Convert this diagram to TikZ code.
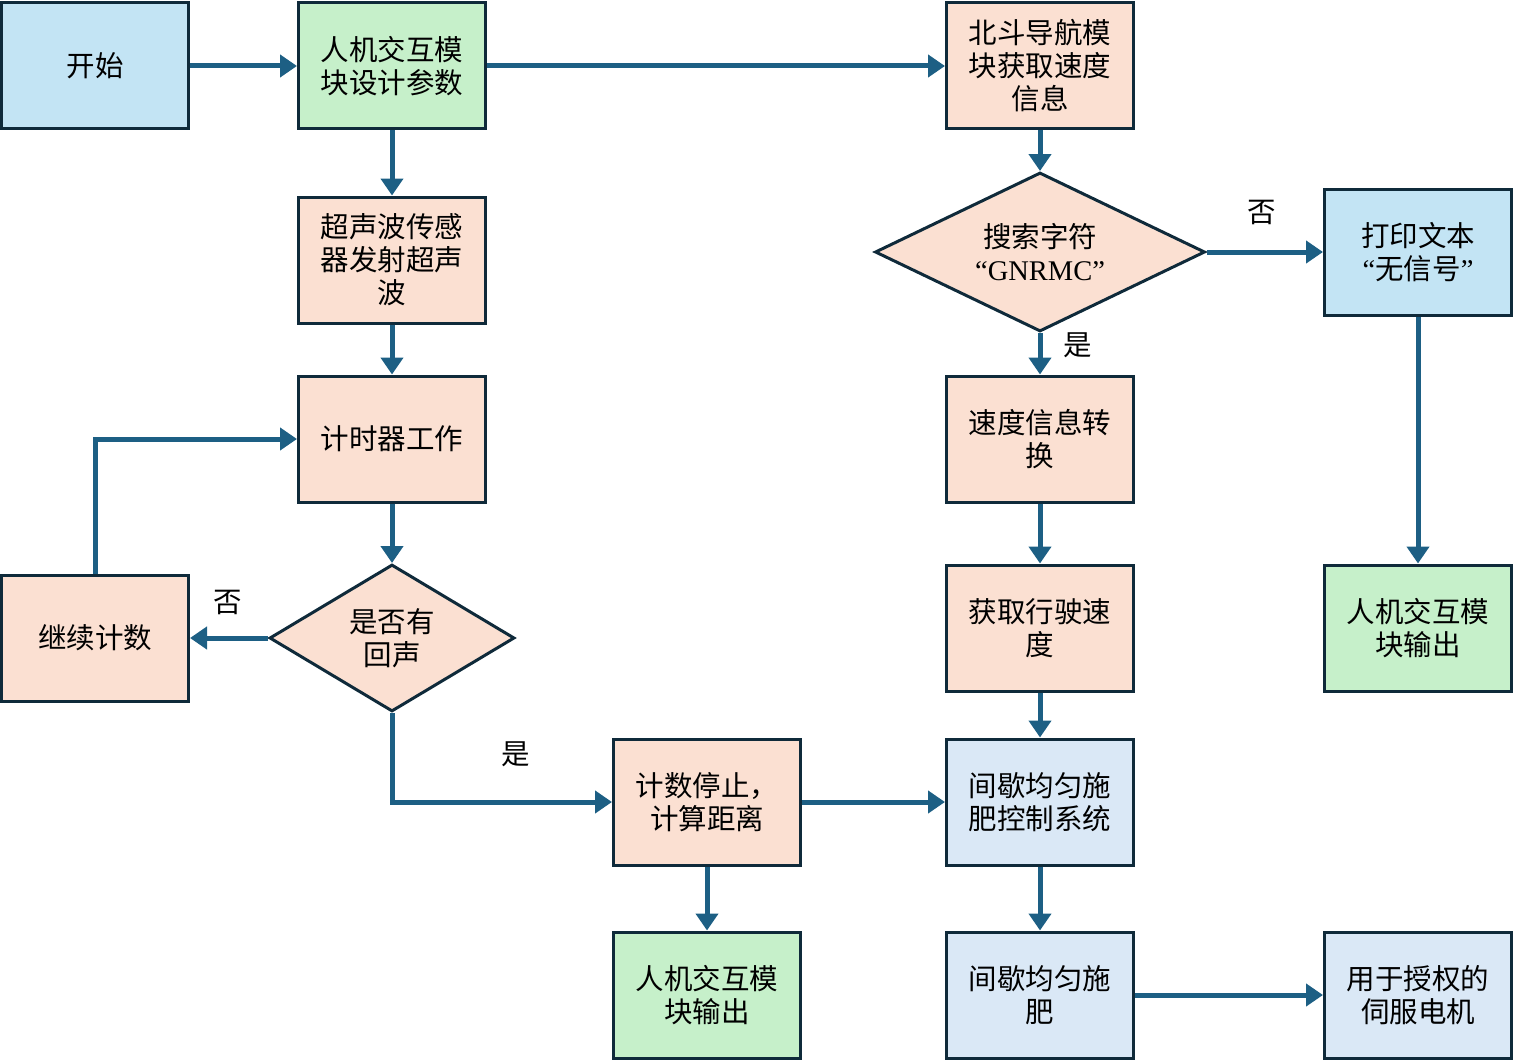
\documentclass[tikz,border=0pt]{standalone}
\usepackage{fontspec}
\setmainfont{Liberation Serif}
\newfontfamily\cjk{Noto Sans CJK SC}
\usetikzlibrary{shapes.geometric,arrows.meta}
\definecolor{edgeblue}{HTML}{1D5F84}
\definecolor{frame}{HTML}{0F2A3A}
\definecolor{skyfill}{HTML}{C3E4F4}
\definecolor{greenfill}{HTML}{C6F0CA}
\definecolor{peachfill}{HTML}{FBE0D2}
\definecolor{greyfill}{HTML}{DAE8F6}

\begin{document}
\begin{tikzpicture}[x=1pt,y=-1pt,
                box/.style={draw=frame,line width=3pt,minimum width=187pt,minimum height=126pt,
                        inner sep=0pt,align=center,font=\cjk\fontsize{28.5}{33}\selectfont},
                test/.style={draw=frame,line width=3pt,diamond,inner sep=0pt,fill=peachfill,
                        align=center,font=\cjk\fontsize{28.5}{33}\selectfont},
                lab/.style={font=\cjk\fontsize{28.5}{33}\selectfont},
                flow/.style={draw=edgeblue,line width=5pt,-{Triangle[length=17pt,width=22pt]}}]
                \useasboundingbox (0,0) rectangle (1515,1062);
                \node[box,fill=skyfill] (start) at (95,66) {开始};
                \node[box,fill=greenfill] (hmi) at (392,66) {人机交互模\\块设计参数};
                \node[box,fill=peachfill] (beidou) at (1040,66) {北斗导航模\\块获取速度\\信息};
                \node[box,fill=peachfill] (sonic) at (392,260) {超声波传感\\器发射超声\\波};
                \node[box,fill=peachfill] (timer) at (392,439) {计时器工作};
                \node[test,minimum width=245pt,minimum height=147pt,aspect=1.67] (echo) at (392,638) {是否有\\回声};
                \node[box,fill=peachfill] (count) at (95,638) {继续计数};
                \node[box,fill=peachfill] (stop) at (707,802) {计数停止，\\计算距离};
                \node[box,fill=greenfill] (out1) at (707,995) {人机交互模\\块输出};
                \node[test,minimum width=330pt,minimum height=159pt,aspect=2.07] (search) at (1040,252)
                        {搜索字符\\{\rmfamily “GNRMC”}};
                \node[box,fill=skyfill] (nosig) at (1418,252) {打印文本\\{\rmfamily “}无信号{\rmfamily ”}};
                \node[box,fill=peachfill] (convert) at (1040,439) {速度信息转\\换};
                \node[box,fill=peachfill] (speed) at (1040,628) {获取行驶速\\度};
                \node[box,fill=greenfill] (out2) at (1418,628) {人机交互模\\块输出};
                \node[box,fill=greyfill] (ctrl) at (1040,802) {间歇均匀施\\肥控制系统};
                \node[box,fill=greyfill] (fert) at (1040,995) {间歇均匀施\\肥};
                \node[box,fill=greyfill] (servo) at (1418,995) {用于授权的\\伺服电机};
                \node[lab] (no1) at (1262,212) {否};
                \node[lab] (yes1) at (1078,345) {是};
                \node[lab] (no2) at (228,602) {否};
                \node[lab] (yes2) at (516,754) {是};
                \draw[flow] (start) -- (hmi);
                \draw[flow] (hmi) -- (beidou);
                \draw[flow] (hmi) -- (sonic);
                \draw[flow] (sonic) -- (timer);
                \draw[flow] (timer) -- (echo);
                \draw[flow] (echo) -- (count);
                \draw[flow] (count.north) |- (timer.west);
                \draw[flow] (echo.south) |- (stop.west);
                \draw[flow] (stop) -- (out1);
                \draw[flow] (stop) -- (ctrl);
                \draw[flow] (beidou) -- (search);
                \draw[flow] (search.east) -- (nosig.west);
                \draw[flow] (search.south) -- (convert.north);
                \draw[flow] (convert) -- (speed);
                \draw[flow] (speed) -- (ctrl);
                \draw[flow] (nosig) -- (out2);
                \draw[flow] (ctrl) -- (fert);
                \draw[flow] (fert) -- (servo);
            \end{tikzpicture}
\end{document}
